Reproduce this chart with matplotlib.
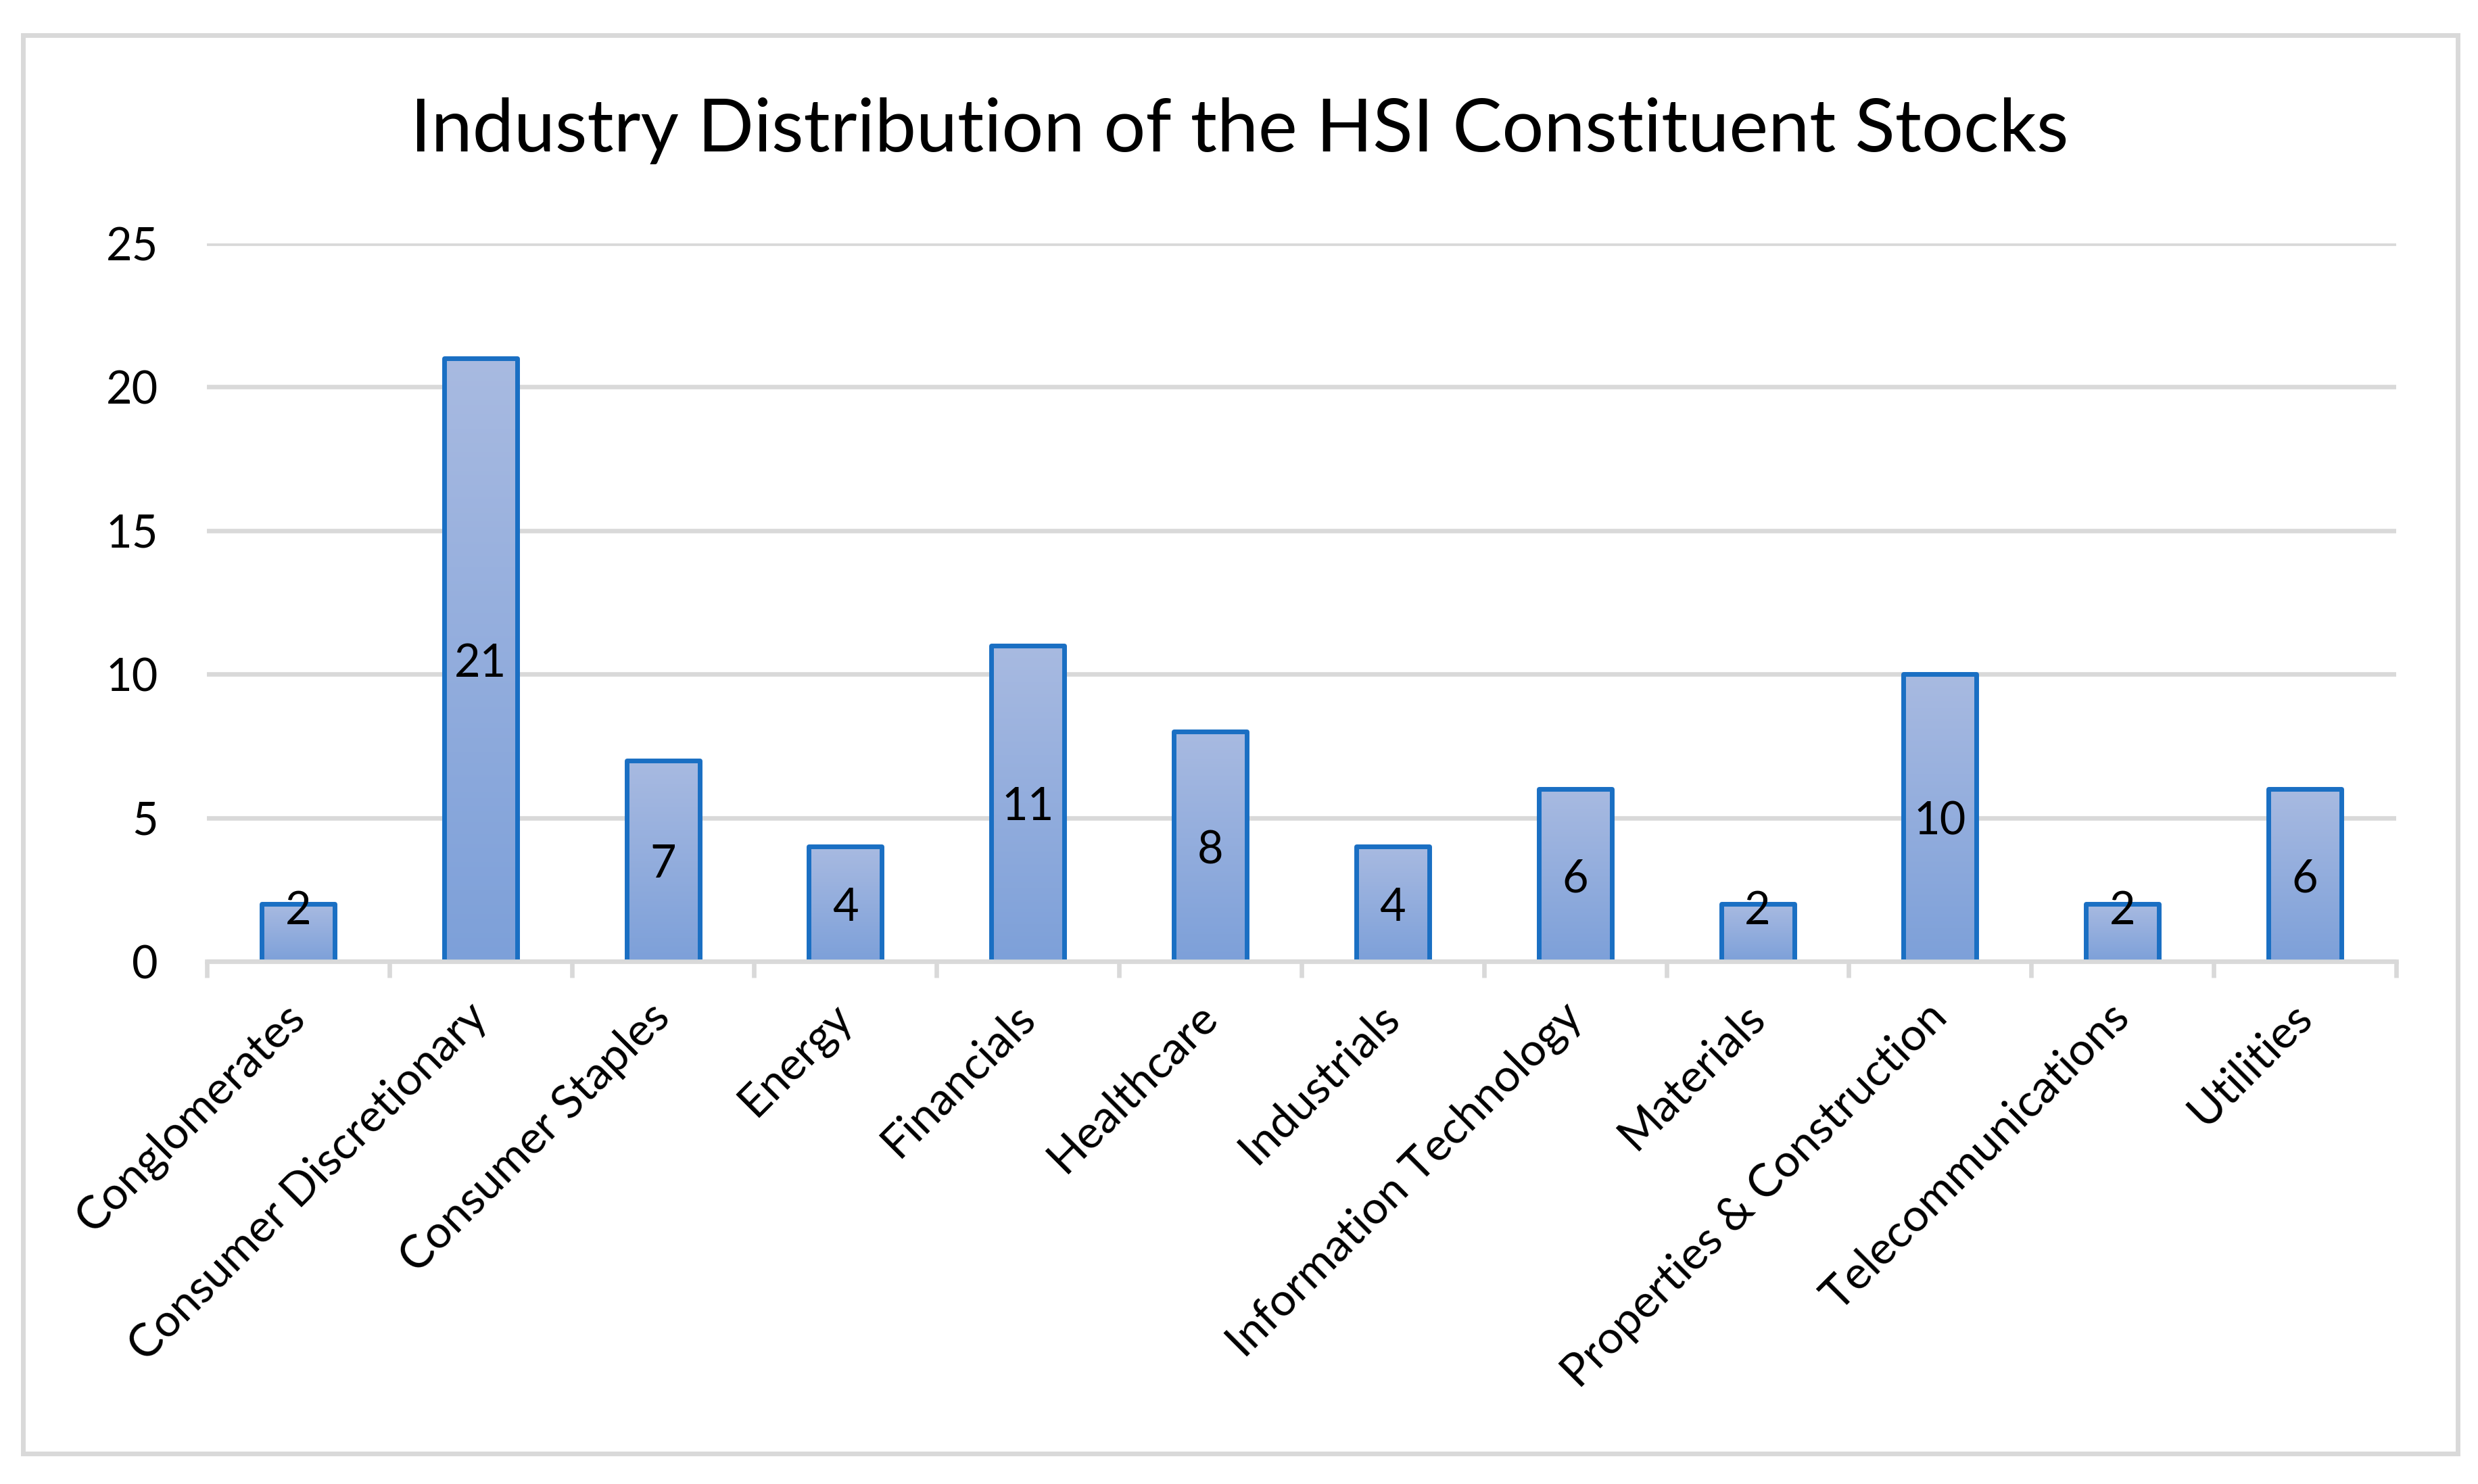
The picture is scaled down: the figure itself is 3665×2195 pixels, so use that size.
import numpy as np
import matplotlib
matplotlib.use("Agg")
import matplotlib.pyplot as plt
from matplotlib.colors import LinearSegmentedColormap
from matplotlib.patches import Rectangle

plt.rcParams['font.family'] = ['Lato', 'DejaVu Sans']

# data
industries = ['Conglomerates', 'Consumer Discretionary', 'Consumer Staples', 'Energy',
              'Financials', 'Healthcare', 'Industrials', 'Information Technology',
              'Materials', 'Properties & Construction', 'Telecommunications', 'Utilities']
counts = [2, 21, 7, 4, 11, 8, 4, 6, 2, 10, 2, 6]
yticks = [0, 5, 10, 15, 20, 25]
title = 'Industry Distribution of the HSI Constituent Stocks'

grey = '#D9D9D9'
edge = '#1A6FC3'
grad = LinearSegmentedColormap.from_list('g', ['#7DA0D9', '#A8BAE1'])

fig = plt.figure(figsize=(18.33, 10.975), dpi=200)
# outer chart border
fig.patches.append(Rectangle((0.0093, 0.0205), 0.9823, 0.9558, transform=fig.transFigure,
                             fill=False, edgecolor=grey, linewidth=2.5, zorder=0))

ax = fig.add_axes([0.08347, 0.35216, 0.88325, 0.48383])
x = np.arange(len(industries))
bars = ax.bar(x, counts, width=0.4, facecolor='none', edgecolor=edge, linewidth=2.5,
              joinstyle='round', zorder=3)

# vertical gradient for each bar
g = np.linspace(0, 1, 256).reshape(-1, 1)
for b in bars:
    x0, y0 = b.get_x(), b.get_y()
    im = ax.imshow(g, cmap=grad, origin='lower', aspect='auto', zorder=2,
                   extent=[x0, x0 + b.get_width(), y0, y0 + b.get_height()])
    im.set_clip_path(b)

# labels centred in bars, kept clear of the axis for short bars
for i, v in enumerate(counts):
    ax.text(i, max(v / 2, 1.88), str(v), ha='center', va='center_baseline',
            fontsize=24, color='black', zorder=4)

ax.set_xlim(-0.5, len(industries) - 0.5)
ax.set_ylim(0, 25)
ax.set_yticks(yticks)
ax.set_yticklabels([str(t) for t in yticks], fontsize=24)
ax.tick_params(axis='y', length=0, pad=26)
ax.yaxis.grid(True, color=grey, linewidth=2.4)
ax.set_axisbelow(True)

ax.set_xticks(x)
ax.set_xticklabels(industries, fontsize=24.3, rotation=45, ha='right', va='center',
                   rotation_mode='anchor')
ax.tick_params(axis='x', which='major', length=0, pad=26)
ax.set_xticks(np.arange(len(industries) + 1) - 0.5, minor=True)
ax.tick_params(axis='x', which='minor', length=8.6, width=2.4, color=grey)

for s in ['top', 'right', 'left']:
    ax.spines[s].set_visible(False)
ax.spines['bottom'].set_color(grey)
ax.spines['bottom'].set_linewidth(2.4)
ax.spines['bottom'].set_zorder(5)

fig.text(0.5, (2195 - 224) / 2195, title, ha='center', va='baseline', fontsize=39.4)

fig.savefig('out.png', dpi=200)
